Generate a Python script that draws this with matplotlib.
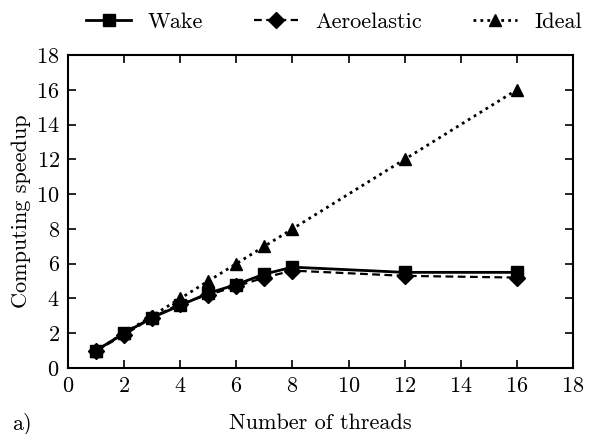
import matplotlib
matplotlib.use("Agg")
import matplotlib.pyplot as plt

plt.rcParams["font.family"] = "serif"
plt.rcParams["font.serif"] = ["cmr10", "DejaVu Serif"]
plt.rcParams["axes.formatter.use_mathtext"] = True
plt.rcParams["mathtext.fontset"] = "cm"

threads = [1, 2, 3, 4, 5, 6, 7, 8, 12, 16]
wake = [1.0, 2.0, 2.9, 3.6, 4.3, 4.8, 5.4, 5.8, 5.5, 5.5]
aeroelastic = [1.0, 1.9, 2.9, 3.7, 4.2, 4.7, 5.2, 5.6, 5.3, 5.2]
ideal = [1, 2, 3, 4, 5, 6, 7, 8, 12, 16]

xticks = [0, 2, 4, 6, 8, 10, 12, 14, 16, 18]
yticks = [0, 2, 4, 6, 8, 10, 12, 14, 16, 18]

fs = 16

fig = plt.figure(figsize=(6.0, 4.34), dpi=100)
ax = fig.add_axes([68 / 600, 1 - 368 / 434, (573 - 68) / 600, (368 - 55) / 434])

ax.plot(threads, wake, "-", color="black", lw=2.0, marker="s", ms=9, label="Wake")
ax.plot(threads, aeroelastic, color="black", lw=1.6, ls=(0, (3.5, 2)), marker="D", ms=8.5,
        label="Aeroelastic")
ax.plot(threads, ideal, color="black", lw=2.0, ls=(0, (1, 1.5)), marker="^", ms=9,
        label="Ideal")

ax.set_xlim(0, 18)
ax.set_ylim(0, 18)
ax.set_xticks(xticks)
ax.set_yticks(yticks)
ax.tick_params(direction="in", top=True, right=True, length=6, width=1.2, labelsize=fs, pad=6)
for s in ax.spines.values():
    s.set_linewidth(1.5)

ax.set_xlabel("Number of threads", fontsize=fs, labelpad=13)
ax.set_ylabel("Computing speedup", fontsize=fs, labelpad=4)

ax.legend(loc="center", bbox_to_anchor=(334 / 600, 1 - 22 / 434), bbox_transform=fig.transFigure,
          ncol=3, frameon=False, fontsize=fs, handlelength=2.0, handletextpad=0.75,
          columnspacing=2.3, borderaxespad=0.0)

fig.text(12 / 600, 1 - 424 / 434, "a)", fontsize=fs, va="center", ha="left")

fig.savefig("out.png", dpi=100)
